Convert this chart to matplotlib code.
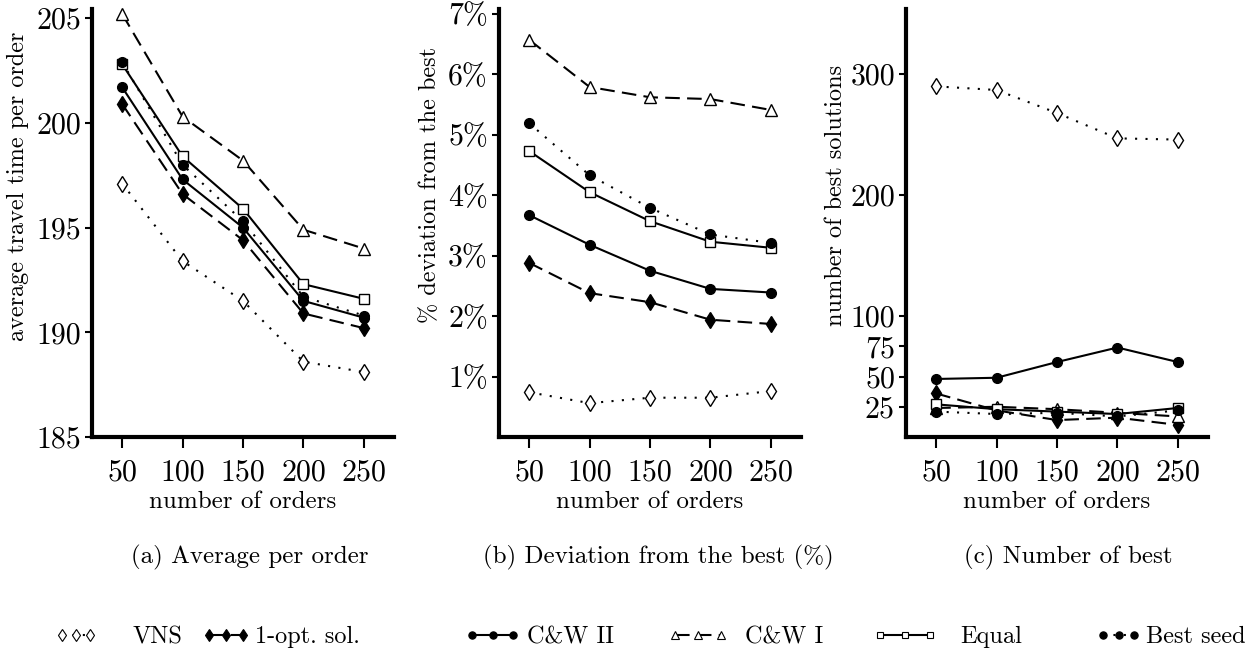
import matplotlib
matplotlib.use("Agg")
import matplotlib.pyplot as plt
from matplotlib.lines import Line2D
from matplotlib.ticker import FixedLocator, FuncFormatter

plt.rcParams['font.family'] = ['cmr10', 'DejaVu Serif']
plt.rcParams['axes.unicode_minus'] = False
plt.rcParams['mathtext.fontset'] = 'cm'

# data
orders = [50, 100, 150, 200, 250]
methods = ['VNS', '1-opt. sol.', 'C&W II', 'C&W I', 'Equal', 'Best seed']

avg_time = {
    'VNS':         [197.1, 193.4, 191.5, 188.6, 188.1],
    '1-opt. sol.': [200.9, 196.6, 194.4, 190.9, 190.2],
    'C&W II':      [201.7, 197.3, 195.0, 191.5, 190.7],
    'C&W I':       [205.2, 200.3, 198.2, 194.9, 194.0],
    'Equal':       [202.8, 198.4, 195.9, 192.3, 191.6],
    'Best seed':   [202.9, 198.0, 195.3, 191.7, 190.8],
}
deviation = {
    'VNS':         [0.74, 0.56, 0.65, 0.65, 0.76],
    '1-opt. sol.': [2.88, 2.38, 2.23, 1.94, 1.87],
    'C&W II':      [3.67, 3.18, 2.75, 2.45, 2.39],
    'C&W I':       [6.57, 5.79, 5.62, 5.59, 5.41],
    'Equal':       [4.73, 4.05, 3.57, 3.23, 3.13],
    'Best seed':   [5.19, 4.33, 3.79, 3.35, 3.21],
}
n_best = {
    'VNS':         [290, 287, 268, 247, 246],
    '1-opt. sol.': [36, 22, 14, 16, 10],
    'C&W II':      [48, 49, 62, 74, 62],
    'C&W I':       [24, 25, 23, 20, 17],
    'Equal':       [27, 23, 21, 19, 24],
    'Best seed':   [21, 19, 20, 17, 22],
}

dotted = (0, (1, 4))
dashed = (0, (7, 3.5))
styles = {
    'VNS':         dict(marker='d', mfc='white', ls=dotted, ms=8.5),
    '1-opt. sol.': dict(marker='d', mfc='black', ls=dashed, ms=8.5),
    'C&W II':      dict(marker='o', mfc='black', ls='-', ms=7),
    'C&W I':       dict(marker='^', mfc='white', ls=dashed, ms=8),
    'Equal':       dict(marker='s', mfc='white', ls='-', ms=6.5),
    'Best seed':   dict(marker='o', mfc='black', ls=dotted, ms=7),
}

W, H = 1252, 654
fig = plt.figure(figsize=(W / 100, H / 100), dpi=100)

panels = [
    (avg_time, 92, (185, 205.44), [185, 190, 195, 200, 205],
     'average travel time per order', '(a) Average per order', 250, 0.585, 5),
    (deviation, 499, (0, 7.08), [1, 2, 3, 4, 5, 6, 7],
     '% deviation from the best', '(b) Deviation from the best (%)', 658, 0.59, 5),
    (n_best, 906, (0, 354), [25, 50, 75, 100, 200, 300],
     'number of best solutions', '(c) Number of best', 1068, 0.565, 2),
]

for i, (data, left_px, ylim, yticks, ylabel, caption, cap_x, ly, lpad) in enumerate(panels):
    ax = fig.add_axes([left_px / W, 1 - 437 / H, 302 / W, 428 / H])
    for m in methods:
        st = styles[m]
        ax.plot(orders, data[m], color='black', lw=1.5, ls=st['ls'],
                marker=st['marker'], ms=st['ms'], mfc=st['mfc'],
                mec='black', mew=1.0, clip_on=False)
    ax.set_xlim(25, 275)
    ax.set_ylim(*ylim)
    ax.set_xticks(orders)
    ax.yaxis.set_major_locator(FixedLocator(yticks))
    if i == 1:
        ax.yaxis.set_major_formatter(FuncFormatter(lambda v, p: '%d%%' % v))
    for s in ['top', 'right']:
        ax.spines[s].set_visible(False)
    for s in ['left', 'bottom']:
        ax.spines[s].set_linewidth(3)
    ax.tick_params(axis='y', length=5, width=1.5, labelsize=21.5, pad=3)
    ax.tick_params(axis='x', length=8, width=1.5, labelsize=21.5, pad=8)
    ax.set_xlabel('number of orders', fontsize=18, labelpad=3)
    ax.set_ylabel(ylabel, fontsize=17.5, labelpad=lpad)
    ax.yaxis.label.set_y(ly)
    fig.text(cap_x / W, 1 - 557 / H, caption, fontsize=18,
             ha='center', va='center')

# legend, one entry at a time to follow the reference spacing
leg_x = [55, 202, 465, 668, 873, 1096]
leg_len = [42, 48, 55, 60, 64, 45]
leg_pad = [36, 5, 7, 17, 23, 5]
fs_leg = 17.5
em = fs_leg * 100 / 72
for m, x, hl, tp in zip(methods, leg_x, leg_len, leg_pad):
    st = styles[m]
    h = Line2D([], [], color='black', lw=1.5, ls=st['ls'], marker=st['marker'],
               ms=st['ms'] * 0.75, mfc=st['mfc'], mec='black', mew=0.8)
    fig.legend([h], [m], loc='center left', bbox_to_anchor=(x / W, 1 - 637 / H),
               frameon=False, fontsize=fs_leg, numpoints=3, borderpad=0,
               borderaxespad=0, handlelength=hl / em, handletextpad=tp / em)

fig.savefig('out.png', dpi=100)
